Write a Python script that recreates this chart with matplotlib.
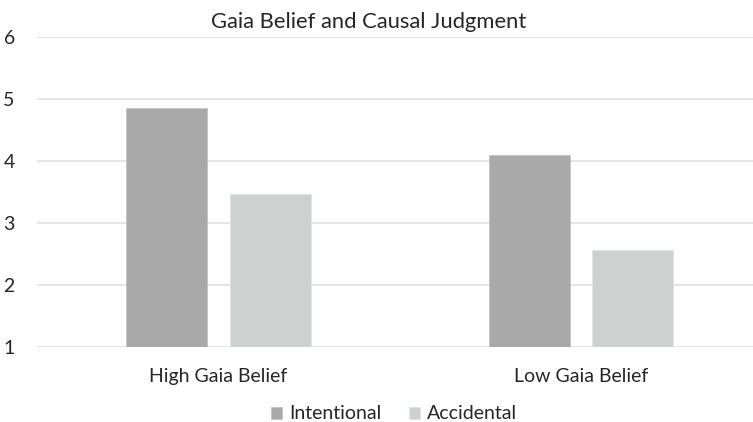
import matplotlib.pyplot as plt
import numpy as np

groups = ["High Gaia Belief", "Low Gaia Belief"]
intentional = [4.86, 4.09]
accidental = [3.47, 2.56]
series_names = ["Intentional", "Accidental"]

plt.rcParams["font.family"] = ["Lato", "DejaVu Sans"]
txt = "#262626"

fig = plt.figure(figsize=(7.53, 4.22), dpi=100)
ax = fig.add_axes([37 / 753, 75 / 422, 716 / 753, 310 / 422])

x = np.arange(len(groups))
w = 0.223
off = 0.143

ax.bar(x - off, intentional, w, bottom=0, color="#a9a9a9",
       edgecolor="#c4c4c4", linewidth=0.6, label=series_names[0], zorder=3)
ax.bar(x + off, accidental, w, bottom=0, color="#cfd0d0",
       edgecolor="#e2e2e2", linewidth=0.6, label=series_names[1], zorder=3)

ax.set_ylim(1, 6)
ax.set_xlim(-0.5, 1.474)
ax.set_yticks([1, 2, 3, 4, 5, 6])
ax.set_xticks(x)
ax.set_xticklabels(groups)
ax.yaxis.grid(True, color="#e0e0e0", linewidth=1.2, zorder=0)
ax.tick_params(axis="both", length=0, labelsize=14, colors=txt)
ax.tick_params(axis="y", pad=16)
ax.tick_params(axis="x", pad=15)
for s in ax.spines.values():
    s.set_visible(False)

fig.text(0.49, 0.947, "Gaia Belief and Causal Judgment", ha="center",
         va="center", fontsize=15.8, color=txt)

ax.legend(loc="center", bbox_to_anchor=(0.4986, -0.216), ncol=2,
          frameon=False, fontsize=14, handlelength=0.57, handleheight=0.57,
          handletextpad=0.35, columnspacing=1.4, labelcolor=txt)

fig.savefig("out.png", dpi=100)
